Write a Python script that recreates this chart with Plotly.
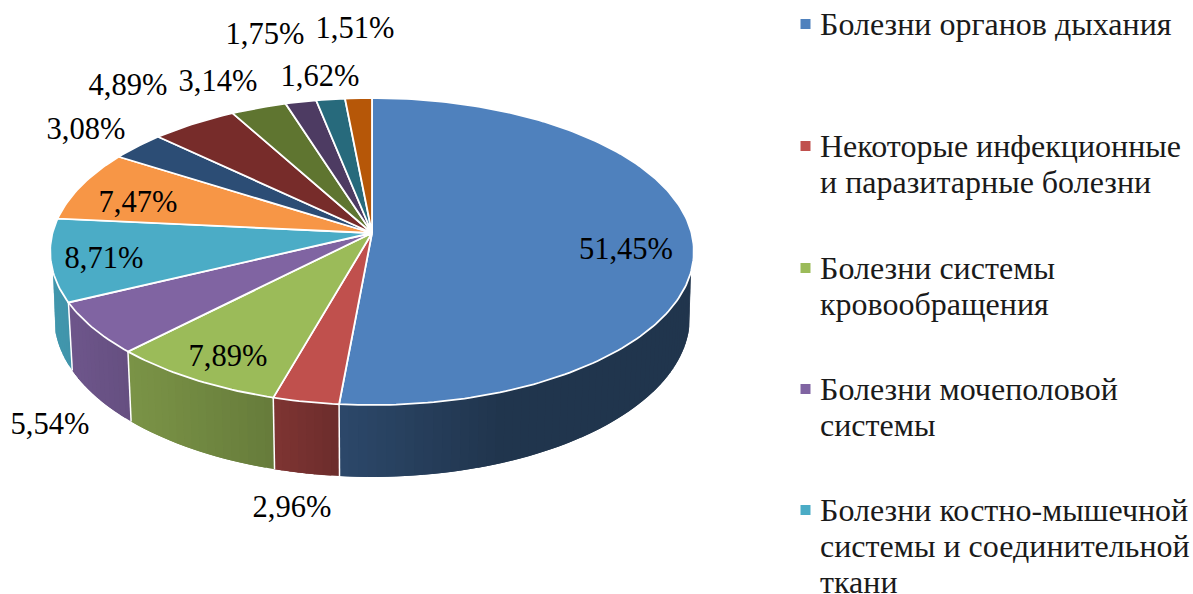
"""3D-looking pie of disease shares, drawn from scatter polygons."""

import numpy as np
import plotly.graph_objects as go

# shares in percent, clockwise from 12 o'clock
values = [51.45, 2.96, 7.89, 5.54, 8.71, 7.47, 3.08, 4.89, 3.14, 1.75, 1.62, 1.51]
value_labels = ["51,45%", "2,96%", "7,89%", "5,54%", "8,71%", "7,47%",
                "3,08%", "4,89%", "3,14%", "1,75%", "1,62%", "1,51%"]
colors = ["#4F81BD", "#C0504D", "#9BBB59", "#8064A2", "#4BACC6", "#F79646",
          "#2C4D75", "#772C2A", "#5F7530", "#4D3B62", "#276A7C", "#B65708"]
legend_groups = [
    ["Болезни органов дыхания"],
    ["Некоторые инфекционные", "и паразитарные болезни"],
    ["Болезни системы", "кровообращения"],
    ["Болезни мочеполовой", "системы"],
    ["Болезни костно-мышечной", "системы и соединительной", "ткани"],
]

# label centres in page pixels (the axes run in pixels)
label_x = [626, 292, 228, 50, 104, 138, 86, 128, 218, 265, 320, 355]
label_y = [251, 509, 358, 426, 260, 204, 131, 87, 83, 36, 78, 30]
legend_marker_y = [24, 146, 268, 389, 510]
LEGEND_LINE_STEP = 36.2

FONT = "Liberation Serif"
CX = 372
TOP = dict(y0=233, r=319.5, q=151.3, p=0.1205)
BOTTOM = dict(y0=298.5, r=315.5, q=157, p=0.12)
# the side wall gets darker towards the right
SHADE_X = [60, 130, 275, 340, 500, 700]
SHADE_F = [0.87, 0.79, 0.66, 0.56, 0.41, 0.41]


def project(deg, face):
    """Perspective projection of a point on the pie rim."""
    a = np.radians(deg)
    u, v = np.sin(a), np.cos(a)
    den = 1 + face["p"] * v
    return CX + face["r"] * u / den, face["y0"] - face["q"] * v / den


def shaded(color, x):
    f = np.interp(x, SHADE_X, SHADE_F)
    rgb = [int(color[i:i + 2], 16) for i in (1, 3, 5)]
    return "rgb({},{},{})".format(*[round(c * f) for c in rgb])


fig = go.Figure()

edges = np.concatenate([[0], np.cumsum(values)]) * 360 / sum(values)
WALL_START, WALL_END = 97, 263
TOP_START, TOP_END = 104.5, 255.5
STRIP_DEG = 1.5

# side wall strips, each runs over the next one a little so no seams show
for i, color in enumerate(colors):
    start, end = max(edges[i], WALL_START), min(edges[i + 1], WALL_END)
    if start >= end:
        continue
    steps = np.linspace(start, end, int((end - start) / STRIP_DEG) + 2)
    for a0, a1 in zip(steps[:-1], steps[1:]):
        a1 = min(a1 + STRIP_DEG, end)
        arc = np.linspace(a0, a1, 4)
        tx, ty = project(np.clip(arc, TOP_START, TOP_END), TOP)
        bx, by = project(arc, BOTTOM)
        strip = shaded(color, (tx[0] + tx[1]) / 2)
        fig.add_trace(go.Scatter(
            x=[*tx, *bx[::-1], tx[0]], y=[*ty, *by[::-1], ty[0]],
            mode="lines", fill="toself", fillcolor=strip,
            line=dict(width=0), hoverinfo="skip"))

# white edges between wall segments
for deg in edges:
    if WALL_START < deg < WALL_END:
        tx, ty = project(deg, TOP)
        bx, by = project(deg, BOTTOM)
        fig.add_trace(go.Scatter(x=[tx, bx], y=[ty, by], mode="lines",
                                 line=dict(color="white", width=1.5), hoverinfo="skip"))

# top face
for i, color in enumerate(colors):
    arc = np.linspace(edges[i], edges[i + 1], max(int(edges[i + 1] - edges[i]), 2) + 1)
    rim_x, rim_y = project(arc, TOP)
    fig.add_trace(go.Scatter(
        x=[CX, *rim_x, CX], y=[TOP["y0"], *rim_y, TOP["y0"]],
        mode="lines", fill="toself", fillcolor=color,
        line=dict(color="white", width=1.8), hoverinfo="skip"))

# value labels
fig.add_trace(go.Scatter(
    x=label_x, y=label_y, mode="text", text=value_labels,
    textposition="middle center", hoverinfo="skip",
    textfont=dict(family=FONT, size=30.5, color="black")))

# legend
fig.add_trace(go.Scatter(
    x=[805.5] * len(legend_marker_y), y=legend_marker_y, mode="markers",
    marker=dict(symbol="square", size=10, color=colors[:len(legend_groups)]),
    hoverinfo="skip"))
line_y, line_text = [], []
for marker_y, group in zip(legend_marker_y, legend_groups):
    for n, line in enumerate(group):
        line_y.append(marker_y + 3 + n * LEGEND_LINE_STEP)
        line_text.append(line)
fig.add_trace(go.Scatter(
    x=[820] * len(line_y), y=line_y, mode="text", text=line_text,
    textposition="middle right", hoverinfo="skip", cliponaxis=False,
    textfont=dict(family=FONT, size=32, color="#1a1a1a")))

fig.update_layout(
    width=1193, height=594,
    margin=dict(l=0, r=0, t=0, b=0),
    paper_bgcolor="white", plot_bgcolor="white",
    showlegend=False,
    xaxis=dict(range=[0, 1193], visible=False, fixedrange=True),
    yaxis=dict(range=[594, 0], visible=False, fixedrange=True),
)

fig.write_html("out.html", config={"displayModeBar": False},
               post_script="document.body.style.margin = '0';")
